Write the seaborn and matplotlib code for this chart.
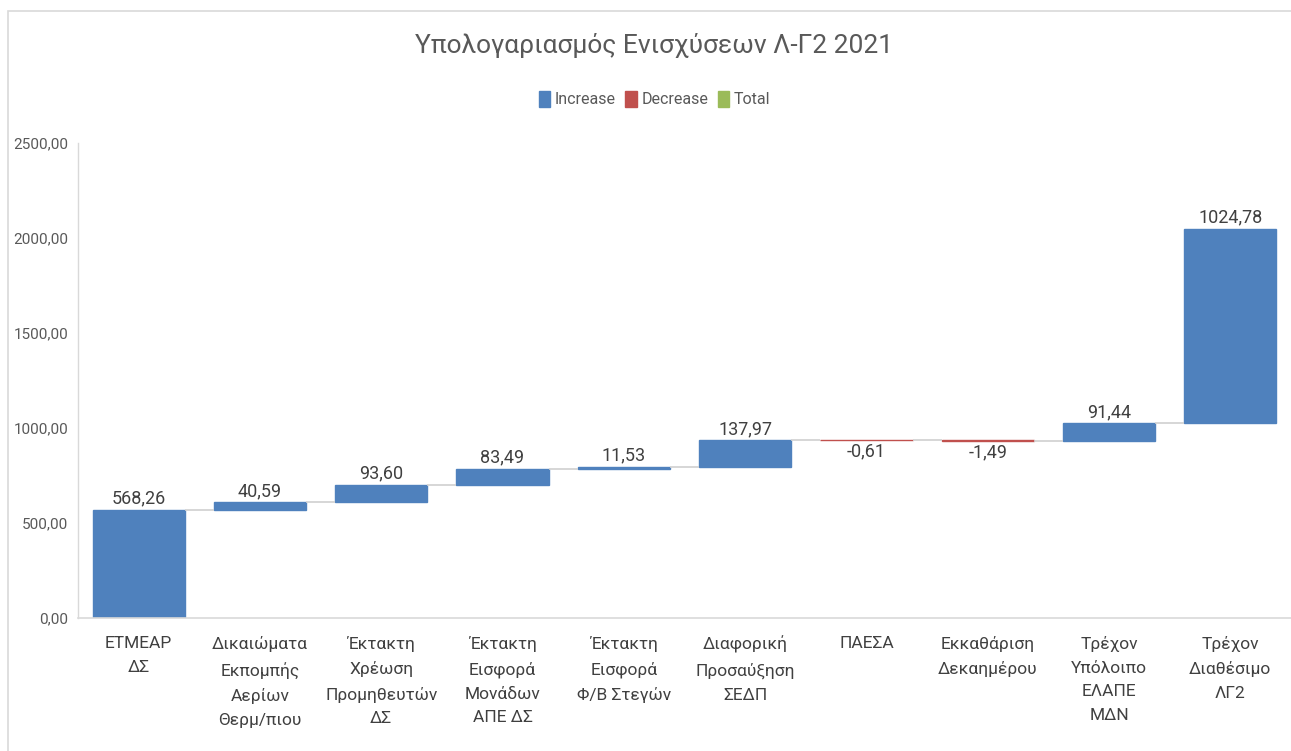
import matplotlib
matplotlib.use("Agg")
import matplotlib.pyplot as plt
from matplotlib.patches import Patch, Rectangle
import seaborn as sns
import pandas as pd
import numpy as np

# --- data ---
categories = [
    "ΕΤΜΕΑΡ\nΔΣ",
    "Δικαιώματα\nΕκπομπής\nΑερίων\nΘερμ/πιου",
    "Έκτακτη\nΧρέωση\nΠρομηθευτών\nΔΣ",
    "Έκτακτη\nΕισφορά\nΜονάδων\nΑΠΕ ΔΣ",
    "Έκτακτη\nΕισφορά\nΦ/Β Στεγών",
    "Διαφορική\nΠροσαύξηση\nΣΕΔΠ",
    "ΠΑΕΣΑ",
    "Εκκαθάριση\nΔεκαημέρου",
    "Τρέχον\nΥπόλοιπο\nΕΛΑΠΕ\nΜΔΝ",
    "Τρέχον\nΔιαθέσιμο\nΛΓ2",
]
values = [568.26, 40.59, 93.60, 83.49, 11.53, 137.97, -0.61, -1.49, 91.44, 1024.78]
yticks = [0, 500, 1000, 1500, 2000, 2500]

BLUE = "#4F81BD"
RED = "#C0504D"
GREEN = "#9BBB59"
FONT = ["Roboto", "DejaVu Sans"]

sns.set_theme(style="white")
plt.rcParams["font.family"] = FONT

df = pd.DataFrame({"cat": categories, "val": values})
df["end"] = df["val"].cumsum()
df["start"] = df["end"] - df["val"]
df["base"] = df[["start", "end"]].min(axis=1)
df["height"] = df["val"].abs()
df["kind"] = np.where(df["val"] >= 0, "Increase", "Decrease")

fig = plt.figure(figsize=(12.91, 7.51), dpi=100)
ax = fig.add_axes([0.0604, 0.177, 0.9396, 0.6326])

width = 0.76
for kind, col in [("Increase", BLUE), ("Decrease", RED)]:
    sub = df[df["kind"] == kind]
    sns.barplot(data=sub, x="cat", y="height", order=categories, color=col,
                width=width, bottom=sub["base"].tolist(), edgecolor=col,
                linewidth=1.0, ax=ax, saturation=1)

# connectors between bars
for i in range(len(df) - 1):
    y = df["end"].iloc[i]
    ax.hlines(y, i + width / 2, i + 1 - width / 2, color="#D0D0D0", lw=1.2, zorder=1)

# data labels
for i, r in df.iterrows():
    txt = f"{r['val']:.2f}".replace(".", ",")
    if r["val"] >= 0:
        ax.text(i, r["base"] + r["height"] + 12, txt, ha="center", va="bottom",
                fontsize=13, color="#404040")
    else:
        ax.text(i, r["base"] - 12, txt, ha="center", va="top",
                fontsize=13, color="#404040")

ax.set_xlim(-0.5, len(categories) - 0.5)
ax.set_ylim(0, 2500)
ax.set_yticks(yticks)
ax.set_yticklabels([f"{v:.2f}".replace(".", ",") for v in yticks], fontsize=11, color="#595959")
ax.set_xticks(range(len(categories)))
ax.set_xticklabels(categories, fontsize=12.5, color="#404040", linespacing=1.72, va="top")
ax.tick_params(axis="both", length=0)
ax.tick_params(axis="x", pad=13)
ax.tick_params(axis="y", pad=7)
ax.set_xlabel("")
ax.set_ylabel("")
for s in ["top", "right"]:
    ax.spines[s].set_visible(False)
ax.spines["left"].set_color("#D9D9D9")
ax.spines["bottom"].set_color("#D9D9D9")
ax.spines["left"].set_linewidth(1)
ax.spines["bottom"].set_linewidth(1.2)

fig.text(0.507, 0.940, "Υπολογαριασμός Ενισχύσεων Λ-Γ2 2021", ha="center", va="center",
         fontsize=19, color="#595959")

handles = [Patch(color=BLUE, label="Increase"), Patch(color=RED, label="Decrease"),
           Patch(color=GREEN, label="Total")]
fig.legend(handles=handles, loc="center", bbox_to_anchor=(0.507, 0.868), ncol=3,
           frameon=False, fontsize=11.5, handlelength=0.7, handleheight=1.2,
           handletextpad=0.3, columnspacing=0.6, labelcolor="#595959")

fig.add_artist(Rectangle((0.0062, -0.05), 1.1, 1.035, transform=fig.transFigure,
                         fill=False, edgecolor="#D9D9D9", lw=1.2))

fig.savefig("out.png", dpi=100)
